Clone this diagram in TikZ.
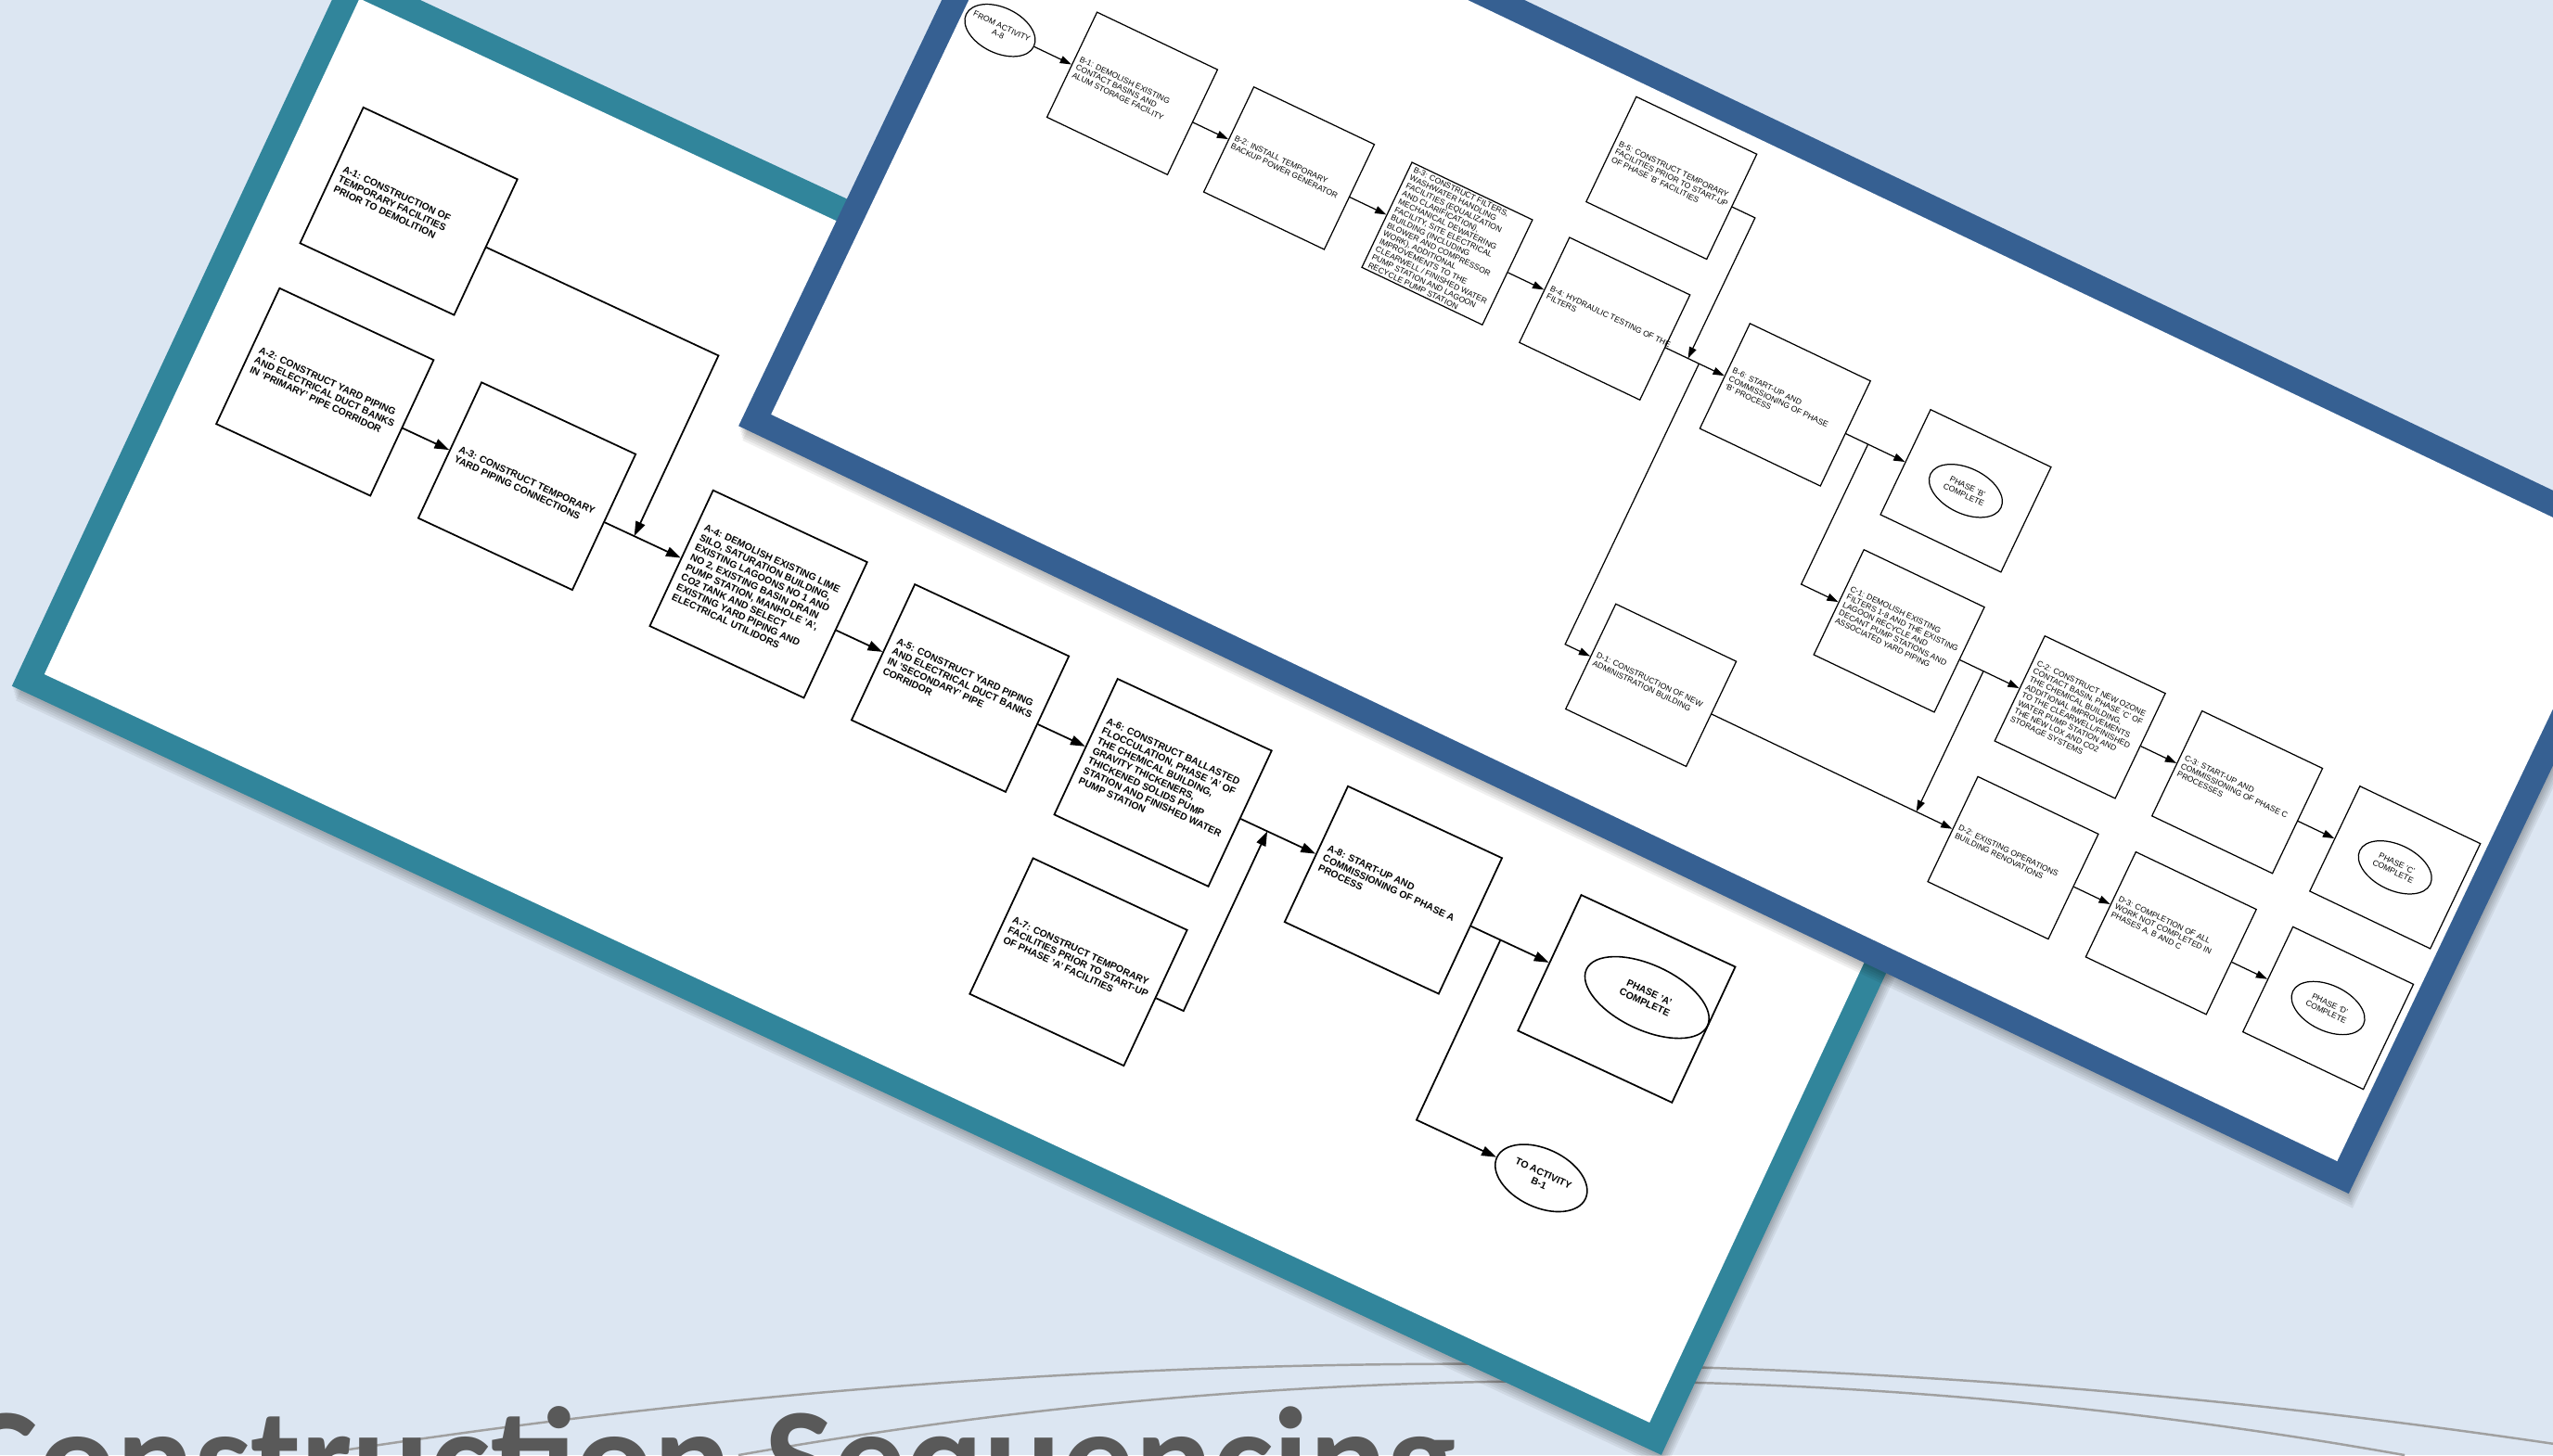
\documentclass[tikz,border=0pt]{standalone}
\usepackage{fontspec}
\setmainfont{Liberation Sans}
\newfontfamily\titlefont{Carlito}
\usetikzlibrary{calc,shapes.geometric,arrows.meta}

\newlength{\du}
\setlength{\du}{0.1755mm}

\definecolor{bgcolor}{RGB}{220,230,242}
\definecolor{tealframe}{RGB}{49,133,155}
\definecolor{blueframe}{RGB}{54,96,146}
\definecolor{titlegrey}{RGB}{89,89,89}
\definecolor{swoosh}{RGB}{160,160,160}

\tikzset{
  swooshline/.style={swoosh, line width=0.7pt},
  abox/.style={draw, line width=0.5pt, minimum width=104.4\du, minimum height=92\du, inner sep=0pt, transform shape},
  atext/.style={anchor=west, align=left, inner sep=0pt, font=\bfseries\fontsize{3.0}{3.35}\selectfont, transform shape},
  aoval/.style={draw, ellipse, line width=0.45pt, inner sep=0pt, transform shape},
  aovaltext/.style={align=center, inner sep=0pt, font=\bfseries\fontsize{3.0}{3.35}\selectfont, transform shape},
  aarrow/.style={line width=0.5pt, -{Triangle[length=4.5pt,width=3pt]}},
  bbox/.style={draw, line width=0.35pt, minimum width=82\du, minimum height=71.5\du, inner sep=0pt, transform shape},
  btext/.style={anchor=west, align=left, inner sep=0pt, font=\fontsize{2.45}{2.7}\selectfont, transform shape},
  boval/.style={draw, ellipse, line width=0.35pt, inner sep=0pt, transform shape},
  bovaltext/.style={align=center, inner sep=0pt, font=\fontsize{2.45}{2.7}\selectfont, transform shape},
  barrow/.style={line width=0.35pt, -{Triangle[length=3.5pt,width=2.3pt]}},
}

\begin{document}
\begin{tikzpicture}[x=\du, y=\du]
\useasboundingbox (0,0) rectangle (1568,894);
\clip (0,0) rectangle (1568,894);
\fill[bgcolor] (0,0) rectangle (1568,894);

% swooshes and title
\draw[swooshline] (192,0) .. controls (650.7,72.3) and (1109.3,74.7) .. (1568,7);
\draw[swooshline] (453.5,0) .. controls (794.6,60.7) and (1135.8,60.7) .. (1476.9,0);
\node[anchor=base west, inner sep=0pt, text=titlegrey, font=\titlefont\bfseries\fontsize{44.5}{50}\selectfont] (title) at (-24,-33) {Construction Sequencing};

% sheet A
\begin{scope}[shift={(7.3,472.5)}, rotate=-25]
\foreach \s in {1,...,5}
  \fill[black, opacity=0.06] (1.2*\s,-1.4*\s) rectangle ++(1117.8,488);
\fill[tealframe] (0,0) rectangle (1117.8,488);
\fill[white] (15,15) rectangle (1102.8,473);

\node[abox] (a1) at (97.6,367.4) {};
\node[atext] (a1t) at ($(a1.west)!5\du!(a1.east)$) {A-1: CONSTRUCTION OF\\TEMPORARY FACILITIES\\PRIOR TO DEMOLITION};
\node[abox] (a2) at (97.9,245) {};
\node[atext] (a2t) at ($(a2.west)!5\du!(a2.east)$) {A-2: CONSTRUCT YARD PIPING\\AND ELECTRICAL DUCT BANKS\\IN 'PRIMARY' PIPE CORRIDOR};
\node[abox] (a3) at (234.8,245) {};
\node[atext] (a3t) at ($(a3.west)!5\du!(a3.east)$) {A-3: CONSTRUCT TEMPORARY\\YARD PIPING CONNECTIONS};
\node[abox] (a4) at (391.7,245) {};
\node[atext] (a4t) at ($(a4.west)!5\du!(a4.east)$) {A-4: DEMOLISH EXISTING LIME\\SILO, SATURATION BUILDING,\\EXISTING LAGOONS NO 1 AND\\NO 2, EXISTING BASIN DRAIN\\PUMP STATION, MANHOLE 'A',\\CO2 TANK AND SELECT\\EXISTING YARD PIPING AND\\ELECTRICAL UTILIDORS};
\node[abox] (a5) at (528.4,245) {};
\node[atext] (a5t) at ($(a5.west)!5\du!(a5.east)$) {A-5: CONSTRUCT YARD PIPING\\AND ELECTRICAL DUCT BANKS\\IN 'SECONDARY' PIPE\\CORRIDOR};
\node[abox] (a6) at (665.8,245) {};
\node[atext] (a6t) at ($(a6.west)!5\du!(a6.east)$) {A-6: CONSTRUCT BALLASTED\\FLOCCULATION, PHASE 'A' OF\\THE CHEMICAL BUILDING,\\GRAVITY THICKENERS,\\THICKENED SOLIDS PUMP\\STATION AND FINISHED WATER\\PUMP STATION};
\node[abox] (a7) at (665.3,123.2) {};
\node[atext] (a7t) at ($(a7.west)!5\du!(a7.east)$) {A-7: CONSTRUCT TEMPORARY\\FACILITIES PRIOR TO START-UP\\OF PHASE 'A' FACILITIES};
\node[abox] (a8) at (821.9,245) {};
\node[atext] (a8t) at ($(a8.west)!5\du!(a8.east)$) {A-8: START-UP AND\\COMMISSIONING OF PHASE A\\PROCESS};
\node[abox] (pa) at (980,245) {};
\node[aoval, minimum width=82\du, minimum height=40\du] (pae) at (991,251) {};
\node[aovaltext] (paet) at (pae.center) {PHASE 'A'\\COMPLETE};
\node[aoval, minimum width=60\du, minimum height=36\du] (to) at (979,123) {};
\node[aovaltext] (tot) at (to.center) {TO ACTIVITY\\B-1};

\coordinate (a1bend) at (307.5,367.4);
\coordinate (a1join) at (307.5,245);
\coordinate (a7bend) at (736.5,123.2);
\coordinate (a7join) at (736.5,245);
\coordinate (a8split) at (894.5,245);
\coordinate (tobend) at (894.5,123);

\draw[aarrow] (a2.east) -- (a3.west);
\draw[aarrow] (a3.east) -- (a4.west);
\draw[aarrow] (a4.east) -- (a5.west);
\draw[aarrow] (a5.east) -- (a6.west);
\draw[aarrow] (a6.east) -- (a8.west);
\draw[aarrow] (a8.east) -- (pa.west);
\draw[aarrow] (a1.east) -- (a1bend) -- (a1join);
\draw[aarrow] (a7.east) -- (a7bend) -- (a7join);
\draw[aarrow] (a8split) -- (tobend) -- (to.west);
\end{scope}

% sheet B
\begin{scope}[shift={(453.6,632.3)}, rotate=-25.5]
\foreach \s in {1,...,5}
  \fill[black, opacity=0.06] (1.2*\s,-1.4*\s) rectangle ++(1095.7,444);
\fill[blueframe] (0,0) rectangle (1095.7,444);
\fill[white] (15,15) rectangle (1080.7,429);

\node[boval, minimum width=46\du, minimum height=28\du] (from) at (40.3,288.5) {};
\node[bovaltext] (fromt) at (from.center) {FROM ACTIVITY\\A-8};
\node[bbox] (b1) at (130.3,288.5) {};
\node[btext] (b1t) at ($(b1.west)!3\du!(b1.east)$) {B-1: DEMOLISH EXISTING\\CONTACT BASINS AND\\ALUM STORAGE FACILITY};
\node[bbox] (b2) at (237,288.5) {};
\node[btext] (b2t) at ($(b2.west)!3\du!(b2.east)$) {B-2: INSTALL TEMPORARY\\BACKUP POWER GENERATOR};
\node[bbox] (b3) at (344.6,288.5) {};
\node[btext] (b3t) at ($(b3.west)!3\du!(b3.east)$) {B-3: CONSTRUCT FILTERS,\\WASHWATER HANDLING\\FACILITIES (EQUALIZATION\\AND CLARIFICATION),\\MECHANICAL DEWATERING\\FACILITY, SITE ELECTRICAL\\BUILDING (INCLUDING\\BLOWER AND COMPRESSOR\\WORK), ADDITIONAL\\IMPROVEMENTS TO THE\\CLEARWELL / FINISHED WATER\\PUMP STATION AND LAGOON\\RECYCLE PUMP STATION};
\node[bbox] (b4) at (451.8,288.5) {};
\node[btext] (b4t) at ($(b4.west)!3\du!(b4.east)$) {B-4: HYDRAULIC TESTING OF THE\\FILTERS};
\node[bbox] (b5) at (451.6,384.2) {};
\node[btext] (b5t) at ($(b5.west)!3\du!(b5.east)$) {B-5: CONSTRUCT TEMPORARY\\FACILITIES PRIOR TO START-UP\\OF PHASE 'B' FACILITIES};
\node[bbox] (b6) at (574.6,288.5) {};
\node[btext] (b6t) at ($(b6.west)!3\du!(b6.east)$) {B-6: START-UP AND\\COMMISSIONING OF PHASE\\'B' PROCESS};
\node[bbox] (pb) at (697.5,288.5) {};
\node[boval, minimum width=48\du, minimum height=28\du] (pbe) at (pb.center) {};
\node[bovaltext] (pbet) at (pbe.center) {PHASE 'B'\\COMPLETE};
\node[bbox] (c1) at (697.6,193.2) {};
\node[btext] (c1t) at ($(c1.west)!3\du!(c1.east)$) {C-1: DEMOLISH EXISTING\\FILTERS 1-8 AND THE EXISTING\\LAGOON RECYCLE AND\\DECANT PUMP STATIONS AND\\ASSOCIATED YARD PIPING};
\node[bbox] (c2) at (820.7,193.2) {};
\node[btext] (c2t) at ($(c2.west)!3\du!(c2.east)$) {C-2: CONSTRUCT NEW OZONE\\CONTACT BASIN, PHASE 'C' OF\\THE CHEMICAL BUILDING,\\ADDITIONAL IMPROVEMENTS\\TO THE CLEARWELL/FINISHED\\WATER PUMP STATION AND\\THE NEW LOX AND CO2\\STORAGE SYSTEMS};
\node[bbox] (c3) at (927.7,193.2) {};
\node[btext] (c3t) at ($(c3.west)!3\du!(c3.east)$) {C-3: START-UP AND\\COMMISSIONING OF PHASE C\\PROCESSES};
\node[bbox] (pc) at (1035.1,193.2) {};
\node[boval, minimum width=48\du, minimum height=28\du] (pce) at (pc.center) {};
\node[bovaltext] (pcet) at (pce.center) {PHASE 'C'\\COMPLETE};
\node[bbox] (d1) at (574.4,97.5) {};
\node[btext] (d1t) at ($(d1.west)!3\du!(d1.east)$) {D-1: CONSTRUCTION OF NEW\\ADMINISTRATION BUILDING};
\node[bbox] (d2) at (820.8,97.5) {};
\node[btext] (d2t) at ($(d2.west)!3\du!(d2.east)$) {D-2: EXISTING OPERATIONS\\BUILDING RENOVATIONS};
\node[bbox] (d3) at (928.3,97.5) {};
\node[btext] (d3t) at ($(d3.west)!3\du!(d3.east)$) {D-3: COMPLETION OF ALL\\WORK NOT COMPLETED IN\\PHASES A, B AND C};
\node[bbox] (pd) at (1035.2,97.5) {};
\node[boval, minimum width=48\du, minimum height=28\du] (pde) at (pd.center) {};
\node[bovaltext] (pdet) at (pde.center) {PHASE 'D'\\COMPLETE};

\coordinate (b5bend) at (508.5,384.2);
\coordinate (b5join) at (508.5,288.5);
\coordinate (b4split) at (516,288.5);
\coordinate (d1bend) at (516,97.5);
\coordinate (b6split) at (631,288.5);
\coordinate (c1bend) at (631,193.2);
\coordinate (c1split) at (755,193.2);
\coordinate (d2join) at (755,97.5);

\draw[barrow] (from.east) -- (b1.west);
\draw[barrow] (b1.east) -- (b2.west);
\draw[barrow] (b2.east) -- (b3.west);
\draw[barrow] (b3.east) -- (b4.west);
\draw[barrow] (b4.east) -- (b6.west);
\draw[barrow] (b6.east) -- (pb.west);
\draw[barrow] (b5.east) -- (b5bend) -- (b5join);
\draw[barrow] (b4split) -- (d1bend) -- (d1.west);
\draw[barrow] (b6split) -- (c1bend) -- (c1.west);
\draw[barrow] (c1.east) -- (c2.west);
\draw[barrow] (c2.east) -- (c3.west);
\draw[barrow] (c3.east) -- (pc.west);
\draw[barrow] (c1split) -- (d2join);
\draw[barrow] (d1.east) -- (d2.west);
\draw[barrow] (d2.east) -- (d3.west);
\draw[barrow] (d3.east) -- (pd.west);
\end{scope}
\end{tikzpicture}
\end{document}
